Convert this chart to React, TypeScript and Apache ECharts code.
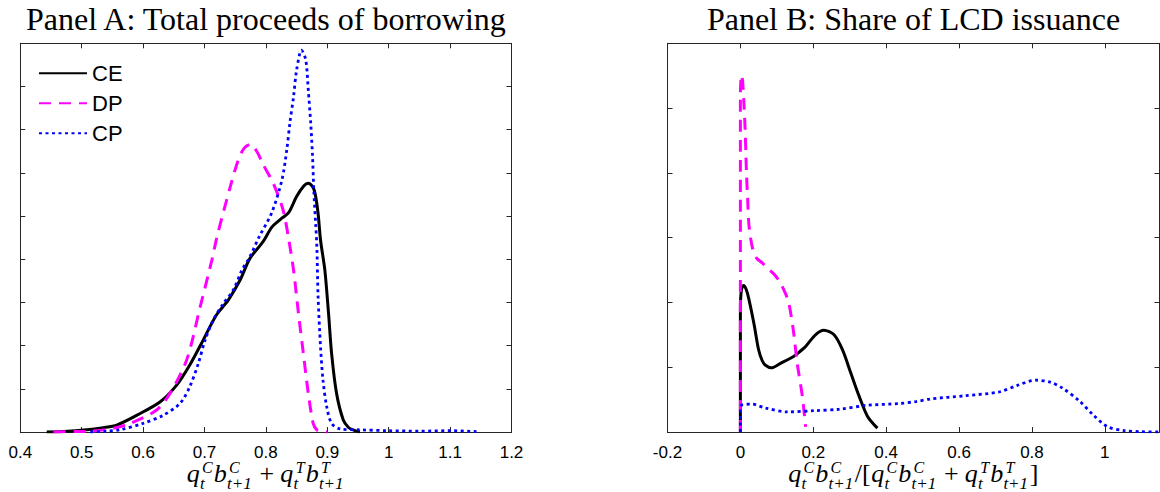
import React, { useEffect, useRef } from 'react';
import * as echarts from 'echarts';

// ---------- data ----------
const seriesNames = ['CE', 'DP', 'CP'];
const seriesColors = ['#000000', '#ff00ff', '#0000ff'];

const titleA = 'Panel A: Total proceeds of borrowing';
const titleB = 'Panel B: Share of LCD issuance';

// Panel A x axis: 0.4 .. 1.2 step 0.1 ; y axis 0..9 (ticks only)
const axisA = { xMin: 0.4, xMax: 1.2, xStep: 0.1, yMin: 0, yMax: 9, yStep: 1, showMax: true };
// Panel B x axis: -0.2 .. 1.15 step 0.2 ; y axis 0..6 (ticks only)
const axisB = { xMin: -0.2, xMax: 1.15, xStep: 0.2, yMin: 0, yMax: 6, yStep: 1, showMax: false };

const panelA_CE = [
  [0.443, 0], [0.47, 0.01], [0.508, 0.05], [0.535, 0.1], [0.557, 0.16], [0.59, 0.39],
  [0.628, 0.7], [0.655, 1.09], [0.676, 1.55], [0.695, 2.05], [0.709, 2.44], [0.72, 2.72],
  [0.73, 2.9], [0.739, 3.06], [0.758, 3.52], [0.774, 4.02], [0.796, 4.42], [0.81, 4.75],
  [0.826, 4.95], [0.837, 5.08], [0.85, 5.45], [0.862, 5.7], [0.869, 5.76], [0.876, 5.68],
  [0.88, 5.53], [0.885, 5.06], [0.889, 4.44], [0.896, 3.75], [0.902, 2.75], [0.907, 1.82],
  [0.915, 0.9], [0.926, 0.28], [0.935, 0.1], [0.942, 0.05], [0.953, 0],
];
const panelA_DP = [
  [0.454, 0], [0.49, 0.01], [0.514, 0.02], [0.55, 0.08], [0.579, 0.2], [0.622, 0.51],
  [0.644, 0.9], [0.671, 1.67], [0.693, 2.9], [0.712, 3.98], [0.72, 4.5], [0.742, 5.68],
  [0.755, 6.3], [0.765, 6.58], [0.775, 6.66], [0.785, 6.5], [0.796, 6.18], [0.812, 5.76],
  [0.828, 5.14], [0.836, 4.56], [0.845, 3.75], [0.853, 2.75], [0.861, 1.82], [0.869, 0.9],
  [0.877, 0.2], [0.883, 0.05], [0.89, 0.01], [0.9, 0],
];
const panelA_CP = [
  [0.514, 0], [0.54, 0.02], [0.562, 0.05], [0.6, 0.2], [0.633, 0.39], [0.66, 0.66],
  [0.676, 1.05], [0.69, 1.59], [0.701, 2.13], [0.714, 2.59], [0.731, 2.98], [0.747, 3.29],
  [0.761, 3.75], [0.774, 4.06], [0.789, 4.52], [0.809, 5.06], [0.826, 5.83], [0.834, 6.53],
  [0.839, 7.15], [0.845, 7.76], [0.85, 8.38], [0.858, 8.84], [0.865, 8.61], [0.869, 7.92],
  [0.873, 7.15], [0.876, 6.37], [0.878, 5.6], [0.881, 4.83], [0.883, 4.29], [0.885, 3.13],
  [0.889, 1.97], [0.893, 1.2], [0.899, 0.59], [0.907, 0.2], [0.921, 0.07], [0.953, 0.05],
  [1.0, 0.03], [1.05, 0.02], [1.1, 0.03], [1.143, 0.01],
];

const panelB_CE = [
  [0, 0], [0, 1.9], [0.003, 2.2], [0.009, 2.26], [0.016, 2.2], [0.023, 2.06], [0.037, 1.68],
  [0.05, 1.27], [0.06, 1.1], [0.069, 1.03], [0.085, 0.99], [0.11, 1.06], [0.147, 1.17],
  [0.165, 1.25], [0.179, 1.32], [0.206, 1.5], [0.229, 1.57], [0.257, 1.5], [0.28, 1.27],
  [0.303, 0.91], [0.326, 0.55], [0.349, 0.24], [0.376, 0.06],
];
const panelB_DP = [
  [0, 0], [0, 5.2], [0.003, 5.51], [0.006, 5.42], [0.01, 5.04], [0.013, 4.67], [0.015, 4.31],
  [0.017, 3.95], [0.02, 3.59], [0.024, 3.16], [0.034, 2.82], [0.045, 2.68], [0.06, 2.61],
  [0.078, 2.51], [0.095, 2.42], [0.11, 2.3], [0.125, 2.12], [0.133, 1.99], [0.145, 1.58],
  [0.156, 1.06], [0.17, 0.55], [0.179, 0.08],
];
const panelB_CP = [
  [0, 0], [0, 0.39], [0.005, 0.42], [0.032, 0.43], [0.069, 0.37], [0.128, 0.31], [0.206, 0.33],
  [0.27, 0.35], [0.344, 0.41], [0.436, 0.44], [0.482, 0.47], [0.522, 0.51], [0.617, 0.56],
  [0.711, 0.62], [0.76, 0.72], [0.81, 0.8], [0.85, 0.77], [0.883, 0.68], [0.93, 0.48],
  [0.967, 0.27], [1.006, 0.085], [1.053, 0.02], [1.1, 0.005], [1.15, 0],
];

// x-axis name tokens (math)
const mathA = [
  { b: 'q', sup: 'C', sub: 't' },
  { b: 'b', sup: 'C', sub: 't+1' },
  { op: '+' },
  { b: 'q', sup: 'T', sub: 't' },
  { b: 'b', sup: 'T', sub: 't+1' },
];
const mathB = [
  { b: 'q', sup: 'C', sub: 't' },
  { b: 'b', sup: 'C', sub: 't+1' },
  { r: '/[' },
  { b: 'q', sup: 'C', sub: 't' },
  { b: 'b', sup: 'C', sub: 't+1' },
  { op: '+' },
  { b: 'q', sup: 'T', sub: 't' },
  { b: 'b', sup: 'T', sub: 't+1' },
  { r: ']' },
];

// ---------- layout ----------
const W = 1160;
const H = 492;
const AXIS_COLOR = '#262626';
const SERIF = '"Liberation Serif", "Times New Roman", serif';
const SANS = '"Liberation Sans", Arial, Helvetica, sans-serif';
const gridA = { left: 20.3, top: 43.3, width: 491.2, height: 388.7 };
const gridB = { left: 667.5, top: 43.3, width: 492, height: 388.7 };
const CENTRAL = 0.3375; // central baseline offset (em) above alphabetic

let measureCtx: CanvasRenderingContext2D | null = null;
function textWidth(t: string, size: number, italic: boolean) {
  if (!measureCtx) measureCtx = document.createElement('canvas').getContext('2d');
  if (!measureCtx) return t.length * size * 0.5;
  measureCtx.font = `${italic ? 'italic ' : ''}${size}px "Liberation Serif"`;
  return measureCtx.measureText(t).width;
}

function mathElements(tokens: any[], cx: number, baseline: number, fs: number, fss: number) {
  const supDy = -0.36 * fs;
  const subDy = 0.27 * fs;
  const items: any[] = [];
  let x = 0;
  const put = (text: string, px: number, base: number, size: number, italic: boolean) => {
    items.push({ text, px, y: base - CENTRAL * size, size, italic });
  };
  for (const tk of tokens) {
    if (tk.op) {
      x += 0.24 * fs;
      put(tk.op, x, baseline, fs, false);
      x += textWidth(tk.op, fs, false) + 0.24 * fs;
    } else if (tk.r) {
      put(tk.r, x, baseline, fs, false);
      x += textWidth(tk.r, fs, false) + 0.02 * fs;
    } else {
      put(tk.b, x, baseline, fs, true);
      x += textWidth(tk.b, fs, true) + 0.03 * fs;
      put(tk.sup, x + 0.06 * fs, baseline + supDy, fss, true);
      put(tk.sub, x - 0.02 * fs, baseline + subDy, fss + 1, true);
      x += Math.max(textWidth(tk.sup, fss, true) + 0.06 * fs, textWidth(tk.sub, fss + 1, true)) + 0.04 * fs;
    }
  }
  const x0 = cx - x / 2;
  return items.map((it) => ({
    type: 'text',
    x: x0 + it.px,
    y: it.y,
    silent: true,
    style: {
      text: it.text,
      fontSize: it.size,
      fontFamily: SERIF,
      fontStyle: it.italic ? 'italic' : 'normal',
      fill: '#000',
      align: 'left',
      verticalAlign: 'middle',
    },
  }));
}

const fmt = (v: number) => String(Math.round(v * 10) / 10);

function xAxisCfg(gridIndex: number, ax: any, position: 'bottom' | 'top') {
  return {
    type: 'value',
    gridIndex,
    position,
    min: ax.xMin,
    max: ax.xMax,
    interval: ax.xStep,
    axisLine: { show: true, onZero: false, lineStyle: { color: AXIS_COLOR, width: 1 } },
    axisTick: { show: true, inside: true, length: 5, lineStyle: { color: AXIS_COLOR, width: 1 } },
    splitLine: { show: false },
    axisLabel: {
      show: position === 'bottom',
      formatter: fmt,
      fontFamily: SANS,
      fontSize: 17,
      color: '#000',
      margin: 12,
      showMinLabel: true,
      showMaxLabel: ax.showMax,
    },
  };
}
function yAxisCfg(gridIndex: number, ax: any, position: 'left' | 'right') {
  return {
    type: 'value',
    gridIndex,
    position,
    min: ax.yMin,
    max: ax.yMax,
    interval: ax.yStep,
    axisLine: { show: true, onZero: false, lineStyle: { color: AXIS_COLOR, width: 1 } },
    axisTick: { show: true, inside: true, length: 5, lineStyle: { color: AXIS_COLOR, width: 1 } },
    splitLine: { show: false },
    axisLabel: { show: false },
  };
}

const dashTypes: any[] = ['solid', [12, 8], [3, 3.5]];
const widths = [3, 3, 2.8];

function lineSeries(idx: number, data: number[][], panel: number) {
  return {
    type: 'line',
    name: seriesNames[idx],
    xAxisIndex: panel * 2,
    yAxisIndex: panel * 2,
    data,
    symbol: 'none',
    showSymbol: false,
    smooth: 0.3,
    clip: true,
    z: 2 + idx,
    lineStyle: { color: seriesColors[idx], width: widths[idx], type: dashTypes[idx], cap: 'butt' },
    itemStyle: { color: seriesColors[idx] },
  };
}

export default function App() {
  const ref = useRef<HTMLDivElement>(null);
  useEffect(() => {
    if (!ref.current) return;
    const chart = echarts.init(ref.current, undefined, { renderer: 'svg', width: W, height: H });
    const cxA = gridA.left + gridA.width / 2;
    const cxB = gridB.left + gridB.width / 2;
    const titleFs = 32;
    const option: any = {
      animation: false,
      backgroundColor: '#ffffff',
      grid: [
        { ...gridA, containLabel: false },
        { ...gridB, containLabel: false },
      ],
      xAxis: [
        xAxisCfg(0, axisA, 'bottom'),
        xAxisCfg(0, axisA, 'top'),
        xAxisCfg(1, axisB, 'bottom'),
        xAxisCfg(1, axisB, 'top'),
      ],
      yAxis: [
        yAxisCfg(0, axisA, 'left'),
        yAxisCfg(0, axisA, 'right'),
        yAxisCfg(1, axisB, 'left'),
        yAxisCfg(1, axisB, 'right'),
      ],
      legend: {
        data: seriesNames,
        orient: 'vertical',
        left: 33,
        top: 57.3,
        padding: 5,
        itemWidth: 48,
        itemHeight: 22,
        itemGap: 8,
        selectedMode: false,
        itemStyle: { color: 'rgba(0,0,0,0)', borderColor: 'rgba(0,0,0,0)', borderWidth: 0, opacity: 0 },
        textStyle: { fontFamily: SANS, fontSize: 22, color: '#000', lineHeight: 22 },
      },
      series: [
        lineSeries(0, panelA_CE, 0),
        lineSeries(1, panelA_DP, 0),
        lineSeries(2, panelA_CP, 0),
        lineSeries(0, panelB_CE, 1),
        lineSeries(1, panelB_DP, 1),
        lineSeries(2, panelB_CP, 1),
      ],
      graphic: [
        {
          type: 'text', x: cxA, y: 30 - CENTRAL * titleFs, silent: true,
          style: { text: titleA, fontSize: titleFs, fontFamily: SERIF, fill: '#000', align: 'center', verticalAlign: 'middle' },
        },
        {
          type: 'text', x: cxB, y: 30 - CENTRAL * titleFs, silent: true,
          style: { text: titleB, fontSize: titleFs, fontFamily: SERIF, fill: '#000', align: 'center', verticalAlign: 'middle' },
        },
        ...mathElements(mathA, cxA, 482.5, 26, 16),
        ...mathElements(mathB, cxB, 482.5, 26, 16),
      ],
    };
    chart.setOption(option);
    return () => chart.dispose();
  }, []);
  return (
    <div
      ref={ref}
      style={{ position: 'fixed', left: 0, top: 0, width: W, height: H, background: '#fff' }}
    />
  );
}
